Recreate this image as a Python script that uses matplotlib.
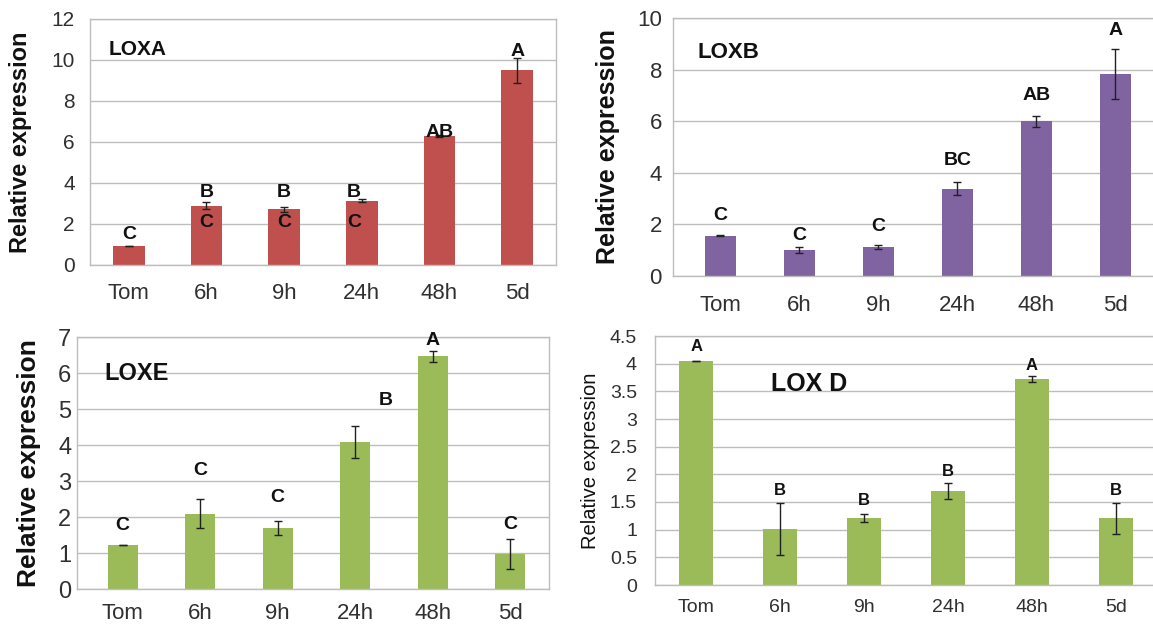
import matplotlib.pyplot as plt

CATS = ["Tom", "6h", "9h", "24h", "48h", "5d"]

LOXA_VAL = [0.93, 2.9, 2.71, 3.14, 6.27, 9.5]
LOXA_ERR = [0.02, 0.15, 0.12, 0.08, 0.05, 0.6]
LOXB_VAL = [1.56, 1.01, 1.12, 3.39, 5.99, 7.82]
LOXB_ERR = [0.02, 0.1, 0.07, 0.25, 0.22, 0.97]
LOXE_VAL = [1.22, 2.09, 1.69, 4.08, 6.46, 0.98]
LOXE_ERR = [0.01, 0.4, 0.19, 0.44, 0.16, 0.42]
LOXD_VAL = [4.05, 1.01, 1.21, 1.7, 3.72, 1.21]
LOXD_ERR = [0.0, 0.47, 0.07, 0.15, 0.06, 0.28]

# significance letters: (category index, text)
LOXA_LET = [(0, "C"), (1, "B"), (1, "C"), (2, "B"), (2, "C"), (3, "B"), (3, "C"), (4, "AB"), (5, "A")]
LOXB_LET = [(0, "C"), (1, "C"), (2, "C"), (3, "BC"), (4, "AB"), (5, "A")]
LOXE_LET = [(0, "C"), (1, "C"), (2, "C"), (3, "B"), (4, "A"), (5, "C")]
LOXD_LET = [(0, "A"), (1, "B"), (2, "B"), (3, "B"), (4, "A"), (5, "B")]

# where the letters sit (x shift, y in data units)
LOXA_LET_POS = [(0, 1.49), (0, 3.52), (0, 2.09), (0, 3.52), (0, 2.09), (-0.1, 3.52), (-0.1, 2.09), (0, 6.47), (0, 10.4)]
LOXB_LET_POS = [(0, 2.35), (0, 1.57), (0, 1.92), (0, 4.47), (0, 7.0), (0, 9.5)]
LOXE_LET_POS = [(0, 1.76), (0, 3.3), (0, 2.53), (0.39, 5.24), (0, 6.9), (0, 1.79)]
LOXD_LET_POS = [(0, 4.31), (0, 1.71), (0, 1.53), (0, 2.06), (0, 3.96), (0, 1.71)]

W, H = 1153, 635
GRID = "#bdbdbd"
TXT = "#303030"

plt.rcParams["font.family"] = ["Liberation Sans", "DejaVu Sans"]


def px_axes(fig, left, right, top, bottom):
    return fig.add_axes([left / W, 1 - bottom / H, (right - left) / W, (bottom - top) / H])


def draw_panel(ax, vals, errs, color, ylim, yticks, xlim, width,
               letters, letter_pos, letter_size, title, title_xy, title_size,
               ytick_size, xtick_size, ypad, xpad, ylabel_x, ylabel_size, ylabel_bold):
    x = range(len(CATS))
    ax.bar(x, vals, width=width, color=color, zorder=2)
    ax.errorbar(x, vals, yerr=errs, fmt="none", ecolor="#202020",
                elinewidth=1, capsize=3, capthick=1, zorder=3)
    ax.set_xlim(*xlim)
    ax.set_ylim(*ylim)
    ax.set_yticks(yticks)
    ax.set_yticklabels([f"{t:g}" for t in yticks])
    ax.set_xticks(list(x))
    ax.set_xticklabels(CATS)
    ax.tick_params(axis="y", length=0, pad=ypad, labelsize=ytick_size, labelcolor=TXT)
    ax.tick_params(axis="x", length=0, pad=xpad, labelsize=xtick_size, labelcolor=TXT)
    ax.grid(axis="y", color=GRID, linewidth=1, zorder=0)
    ax.set_axisbelow(True)
    for s in ax.spines.values():
        s.set_color(GRID)
        s.set_linewidth(1)
    for (i, txt), (dx, y) in zip(letters, letter_pos):
        ax.text(i + dx, y, txt, ha="center", va="center", fontsize=letter_size,
                fontweight="bold", color="#111111", zorder=4)
    ax.text(title_xy[0], title_xy[1], title, transform=ax.transAxes, ha="left",
            va="center", fontsize=title_size, fontweight="bold", color="#111111")
    ax.set_ylabel("Relative expression", fontsize=ylabel_size,
                  fontweight="bold" if ylabel_bold else "normal", color="#111111")
    ax.yaxis.set_label_coords(ylabel_x, 0.5)


fig = plt.figure(figsize=(W / 100, H / 100), dpi=100)

ax1 = px_axes(fig, 90, 556, 19, 265)
draw_panel(ax1, LOXA_VAL, LOXA_ERR, "#C0504D", (0, 12), [0, 2, 4, 6, 8, 10, 12],
           (-0.5, 5.5), 0.41, LOXA_LET, LOXA_LET_POS, 14, "LOXA", (0.04, 0.875), 15,
           15, 16, 11, 13, -0.125, 17, True)

ax2 = px_axes(fig, 673, 1155, 18, 276)
draw_panel(ax2, LOXB_VAL, LOXB_ERR, "#8064A2", (0, 10), [0, 2, 4, 6, 8, 10],
           (-0.6, 5.5), 0.4, LOXB_LET, LOXB_LET_POS, 14, "LOXB", (0.05, 0.868), 16,
           16, 16, 8, 14, -0.11, 18, True)

ax3 = px_axes(fig, 77, 549, 337, 589)
draw_panel(ax3, LOXE_VAL, LOXE_ERR, "#9BBB59", (0, 7), [0, 1, 2, 3, 4, 5, 6, 7],
           (-0.59, 5.5), 0.39, LOXE_LET, LOXE_LET_POS, 14, "LOXE", (0.059, 0.857), 17,
           17, 16, 4, 10, -0.077, 19, True)

ax4 = px_axes(fig, 655, 1158, 336, 585)
draw_panel(ax4, LOXD_VAL, LOXD_ERR, "#9BBB59", (0, 4.5), [0, 0.5, 1, 1.5, 2, 2.5, 3, 3.5, 4, 4.5],
           (-0.49, 5.5), 0.4, LOXD_LET, LOXD_LET_POS, 12, "LOX D", (0.23, 0.807), 18,
           14, 14, 13, 10, -0.11, 14.5, False)

fig.savefig("out.png", dpi=100)
